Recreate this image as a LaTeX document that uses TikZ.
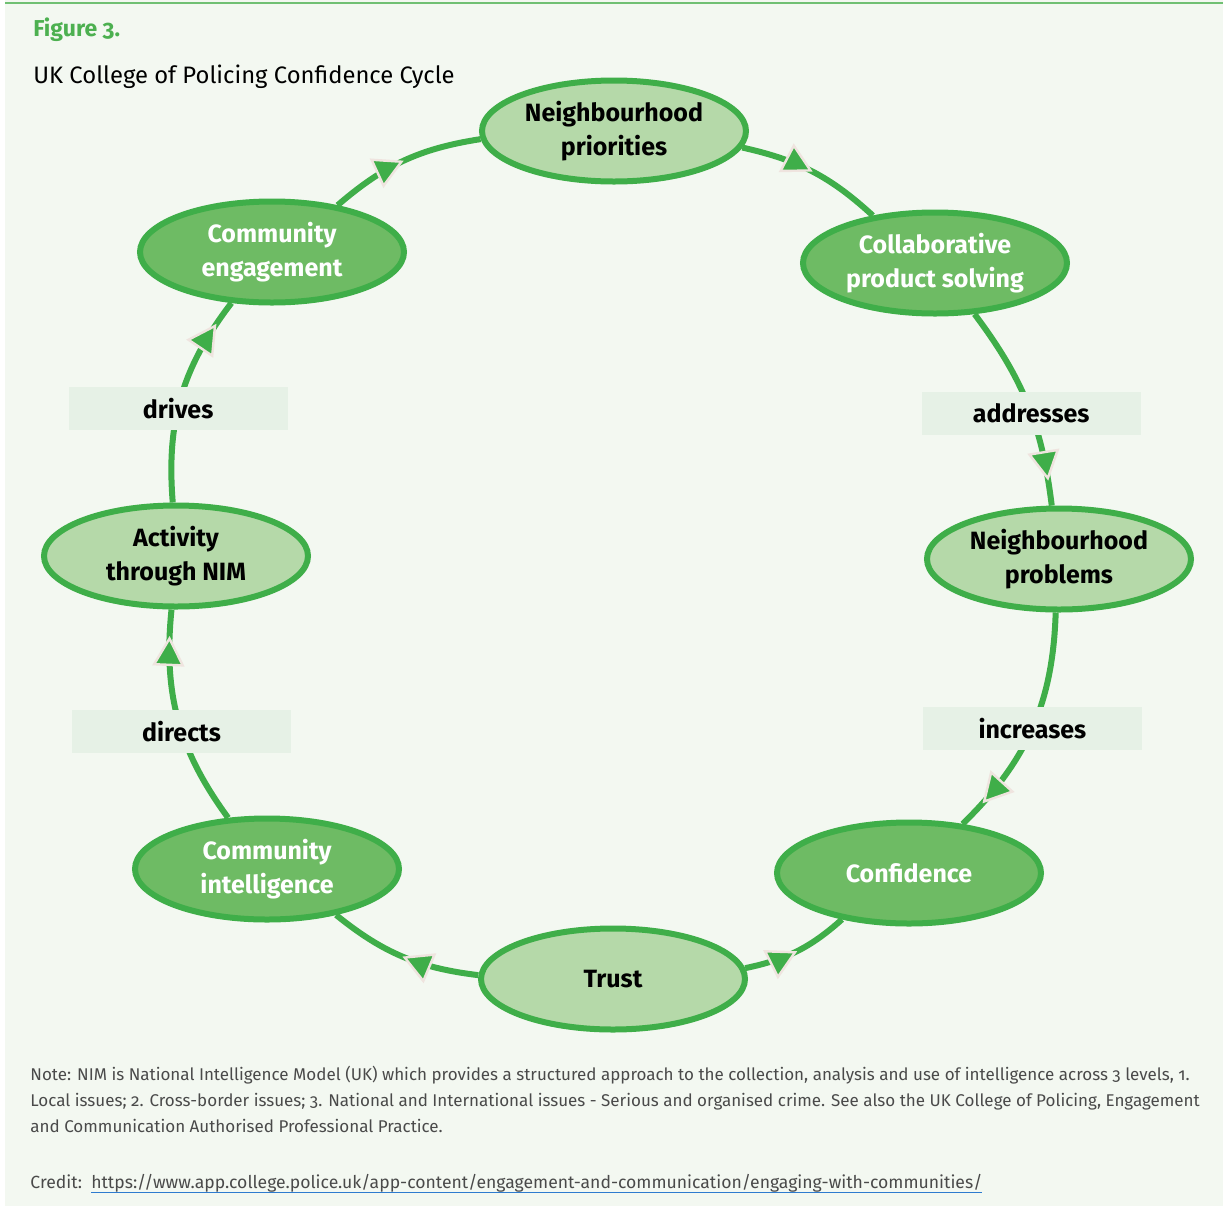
\documentclass[tikz,border=0pt]{standalone}
\usepackage{fontspec}
\setmainfont{Fira Sans}[Numbers=OldStyle]
\usetikzlibrary{shapes.geometric, positioning, arrows.meta, decorations.markings}
\definecolor{cycgreen}{HTML}{3FAE49}
\definecolor{lightfill}{HTML}{B5D9A9}
\definecolor{midfill}{HTML}{6EBB64}
\definecolor{panelbg}{HTML}{F3F8F1}
\definecolor{labelbg}{HTML}{E6F1E6}
\definecolor{tipedge}{HTML}{EFE4DF}
\definecolor{figgreen}{HTML}{4CB050}
\definecolor{notegray}{HTML}{4A4A4A}
\definecolor{linkblue}{HTML}{2E7BCF}
\newcommand\credlink[1]{\setbox0\hbox{#1}\rlap{\textcolor{linkblue}{\rule[-2.5pt]{\wd0}{0.6pt}}}\box0}
\tikzset{
  cycell/.style = {ellipse, draw = cycgreen, line width = 3pt, minimum width = 132pt, minimum height = 50.5pt, inner sep = 0pt, align = center, font = \fontsize{12.5}{17}\selectfont\bfseries},
  lightell/.style = {cycell, fill = lightfill, text = black},
  darkell/.style = {cycell, fill = midfill, text = white},
  link/.style = {draw = cycgreen, line width = 3pt},
  linklabel/.style = {rectangle, fill = labelbg, minimum width = 109.5pt, minimum height = 21.5pt, font = \fontsize{12.5}{15}\selectfont\bfseries},
  tipat/.style = {postaction = {decorate}, decoration = {markings, mark = at position #1 with {\arrow{Triangle[length=15pt, width=16pt, fill=cycgreen, color=tipedge, line width=1.2pt]}}}}
}
\begin{document}
\begin{tikzpicture}[x = 0.5pt, y = 0.5pt]
\useasboundingbox (0,0) rectangle (1223,-1206);
\fill[panelbg] (5,0) rectangle (1223,-1206);
\draw[figgreen!80, line width = 1pt] (5,-3) -- (1223,-3);

% heading
\node[anchor = base west, inner sep = 0pt, text = figgreen, font = \fontsize{11.5}{14}\selectfont\bfseries] (fig) at (33,-36) {Figure 3.};
\node[anchor = base west, inner sep = 0pt, font = \fontsize{11.9}{14}\selectfont] (ttl) at (33,-83) {UK College of Policing Confidence Cycle};

% cycle
\node[lightell] (pri) at (614,-131) {Neighbourhood\\priorities};
\node[darkell] (collab) at (935,-263) {Collaborative\\product solving};
\node[lightell] (prob) at (1059,-559) {Neighbourhood\\problems};
\node[darkell] (conf) at (909,-873) {Confidence};
\node[lightell] (trust) at (613,-979) {Trust};
\node[darkell] (intel) at (267,-869) {Community\\intelligence};
\node[lightell] (act) at (176,-556) {Activity\\through NIM};
\node[darkell] (engage) at (272,-252) {Community\\engagement};

\begin{scope}[on background layer/.try]
\path[link, tipat = 0.5] (engage) to[bend left = 16] (pri);
\path[link, tipat = 0.5] (pri) to[bend left = 15] (collab);
\path[link, tipat = 0.88] (collab) to[bend left = 15] node[linklabel, pos = 0.55] (addr) {addresses} (prob);
\path[link, tipat = 0.88] (prob) to[bend left = 22] node[linklabel] (incr) {increases} (conf);
\path[link, tipat = 0.5] (trust) to[bend right = 15] (conf);
\path[link, tipat = 0.5] (trust) to[bend left = 16] (intel);
\path[link, tipat = 0.88] (intel) to[bend left = 21] node[linklabel, pos = 0.44] (dirc) {directs} (act);
\path[link, tipat = 0.88] (act) to[bend left = 21] node[linklabel, pos = 0.44] (drv) {drives} (engage);
\end{scope}

% note and credit
\node[anchor = base west, inner sep = 0pt, align = left, text = notegray, font = \fontsize{8.5}{13}\selectfont] (note) at (30,-1132) {Note: NIM is National Intelligence Model (UK) which provides a structured approach to the collection, analysis and use of intelligence across 3 levels, 1.\\Local issues; 2. Cross-border issues; 3. National and International issues - Serious and organised crime. See also the UK College of Policing, Engagement\\and Communication Authorised Professional Practice.};
\node[anchor = base west, inner sep = 0pt, text = notegray, font = \fontsize{8.8}{13}\selectfont] (cred) at (30,-1188) {Credit:\ \ \credlink{https://www.app.college.police.uk/app-content/engagement-and-communication/engaging-with-communities/}};
\end{tikzpicture}
\end{document}
